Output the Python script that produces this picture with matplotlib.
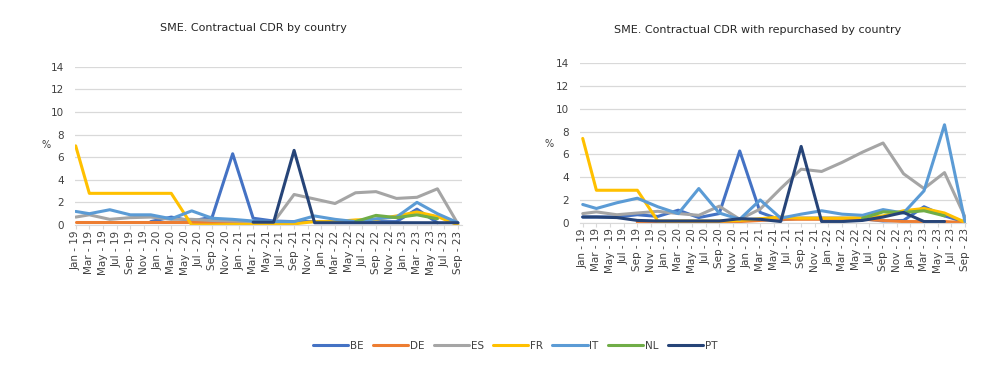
import numpy as np
import matplotlib
matplotlib.use("Agg")
import matplotlib.pyplot as plt

nan = np.nan

# observation dates (year, month)
obs_dates = [(2019, 1), (2019, 3), (2019, 6), (2019, 9), (2019, 12),
             (2020, 3), (2020, 6), (2020, 9), (2020, 12),
             (2021, 3), (2021, 6), (2021, 9), (2021, 12),
             (2022, 3), (2022, 6), (2022, 9), (2022, 12),
             (2023, 3), (2023, 6), (2023, 9)]

tick_labels = ["Jan - 19", "Mar - 19", "May - 19", "Jul - 19", "Sep - 19", "Nov - 19",
               "Jan - 20", "Mar - 20", "May - 20", "Jul - 20", "Sep -20", "Nov - 20",
               "Jan - 21", "Mar - 21", "May -21", "Jul - 21", "Sep -21", "Nov - 21",
               "Jan -22", "Mar - 22", "May -22", "Jul - 22", "Sep - 22", "Nov - 22",
               "Jan - 23", "Mar - 23", "May - 23", "Jul - 23", "Sep - 23"]

countries = ["BE", "DE", "ES", "FR", "IT", "NL", "PT"]
colors = ["#4472C4", "#ED7D31", "#A5A5A5", "#FFC000", "#5B9BD5", "#70AD47", "#264478"]

# left chart: contractual CDR (%)
cdr_be = [nan, nan, nan, nan, 0.3, 0.7, 0.35, 0.7, 6.3, 0.6, 0.35, 0.3, 0.3, 0.3, 0.3, 0.3, 0.3, 1.4, 0.2, nan]
cdr_de = [0.3, 0.3, 0.3, 0.3, 0.3, 0.3, 0.3, 0.3, 0.3, 0.3, nan, nan, nan, nan, nan, nan, nan, nan, nan, nan]
cdr_es = [0.7, 0.9, 0.5, 0.65, 0.7, 0.5, 0.5, 0.4, 0.35, 0.3, 0.25, 2.7, 2.3, 1.9, 2.85, 2.95, 2.35, 2.45, 3.2, 0.1]
cdr_fr = [7.0, 2.8, 2.8, 2.8, 2.8, 2.8, 0.0, 0.0, 0.05, 0.05, 0.05, 0.1, 0.3, 0.3, 0.45, 0.5, 0.8, 1.15, 0.75, 0.0]
cdr_it = [1.2, 1.0, 1.35, 0.9, 0.9, 0.55, 1.25, 0.6, 0.5, 0.35, 0.3, 0.3, 0.8, 0.5, 0.3, 0.55, 0.7, 2.0, 1.0, 0.2]
cdr_nl = [nan, nan, nan, nan, nan, nan, nan, nan, nan, nan, nan, nan, nan, nan, 0.3, 0.85, 0.65, 0.9, 0.55, nan]
cdr_pt = [nan, nan, nan, nan, nan, nan, nan, nan, nan, 0.25, 0.25, 6.6, 0.2, 0.2, 0.2, 0.2, 0.2, 0.2, 0.2, 0.2]

# right chart: contractual CDR with repurchased (%)
rep_be = [0.5, 0.5, 0.5, 0.7, 0.55, 1.1, 0.45, 0.8, 6.3, 0.9, 0.25, 0.4, 0.4, 0.4, 0.35, 0.15, 0.2, 1.4, 0.6, 0.05]
rep_de = [nan, nan, nan, 0.05, 0.05, 0.05, 0.05, 0.05, 0.1, 0.2, 0.3, 0.3, 0.3, 0.3, 0.3, 0.2, 0.1, 0.1, 0.1, 0.0]
rep_es = [0.8, 0.95, 0.7, 0.85, 1.0, 0.8, 0.65, 1.45, 0.3, 1.2, 3.0, 4.7, 4.5, 5.3, 6.2, 7.0, 4.3, 3.0, 4.4, 0.5]
rep_fr = [7.4, 2.85, 2.85, 2.85, 0.15, 0.15, 0.15, 0.15, 0.2, 0.35, 0.5, 0.4, 0.4, 0.4, 0.45, 0.6, 1.05, 1.25, 0.85, 0.05]
rep_it = [1.6, 1.25, 1.75, 2.15, 1.4, 0.8, 3.0, 0.85, 0.3, 2.0, 0.4, 0.75, 1.05, 0.75, 0.65, 1.15, 0.85, 2.8, 8.6, 0.1]
rep_nl = [nan, nan, nan, nan, nan, nan, nan, nan, nan, nan, nan, nan, nan, nan, 0.4, 0.95, 0.9, 1.05, 0.6, nan]
rep_pt = [0.5, 0.5, 0.45, 0.2, 0.15, 0.15, 0.15, 0.15, 0.35, 0.3, 0.1, 6.7, 0.1, 0.1, 0.2, 0.5, 0.9, 0.1, 0.1, nan]

left_series = [cdr_be, cdr_de, cdr_es, cdr_fr, cdr_it, cdr_nl, cdr_pt]
right_series = [rep_be, rep_de, rep_es, rep_fr, rep_it, rep_nl, rep_pt]

x = np.array([(y - 2019) * 12 + (m - 1) for y, m in obs_dates])
tick_pos = np.arange(0, 57, 2)

text_col = "#404040"
plt.rcParams["font.family"] = ["DejaVu Sans"]

fig = plt.figure(figsize=(10, 3.76), dpi=100)


def draw_panel(rect, series, xlim, title, title_x, title_y, pct_x, pct_y):
    ax = fig.add_axes(rect)
    for vals, c in zip(series, colors):
        ax.plot(x, vals, color=c, lw=2.2, solid_joinstyle="round", solid_capstyle="round")
    ax.set_xlim(*xlim)
    ax.set_ylim(0, 14)
    ax.set_yticks(range(0, 15, 2))
    ax.set_xticks(tick_pos)
    ax.set_xticklabels(tick_labels, rotation=90)
    ax.grid(axis="y", color="#D9D9D9", lw=0.9)
    ax.set_axisbelow(True)
    for s in ["top", "right", "left"]:
        ax.spines[s].set_visible(False)
    ax.spines["bottom"].set_color("#D9D9D9")
    ax.tick_params(axis="y", length=0, labelsize=7.5, labelcolor=text_col, pad=8)
    ax.tick_params(axis="x", length=3, color="#D9D9D9", labelsize=7.5, labelcolor=text_col, pad=1)
    fig.text(title_x, title_y, title, ha="center", va="center", fontsize=8, color="#262626")
    fig.text(pct_x, pct_y, "%", ha="center", va="center", fontsize=7, color=text_col)
    return ax


ax1 = draw_panel([0.075, 1 - 225 / 376, 0.387, (225 - 66.7) / 376], left_series, (-0.1, 56.6),
                 "SME. Contractual CDR by country", 0.253, 1 - 28 / 376, 0.046, 1 - 145 / 376)
ax2 = draw_panel([0.580, 1 - 222.7 / 376, 0.386, (222.7 - 63.3) / 376], right_series, (-0.4, 56.15),
                 "SME. Contractual CDR with repurchased by country", 0.758, 1 - 30 / 376, 0.549, 1 - 144 / 376)

handles = ax1.get_lines()
fig.legend(handles, countries, loc="center", bbox_to_anchor=(0.515, 1 - 346 / 376), ncol=7,
           frameon=False, fontsize=7.5, handlelength=3.4, handletextpad=0.15, columnspacing=0.9,
           labelcolor=text_col)

fig.savefig("out.png", dpi=100)
